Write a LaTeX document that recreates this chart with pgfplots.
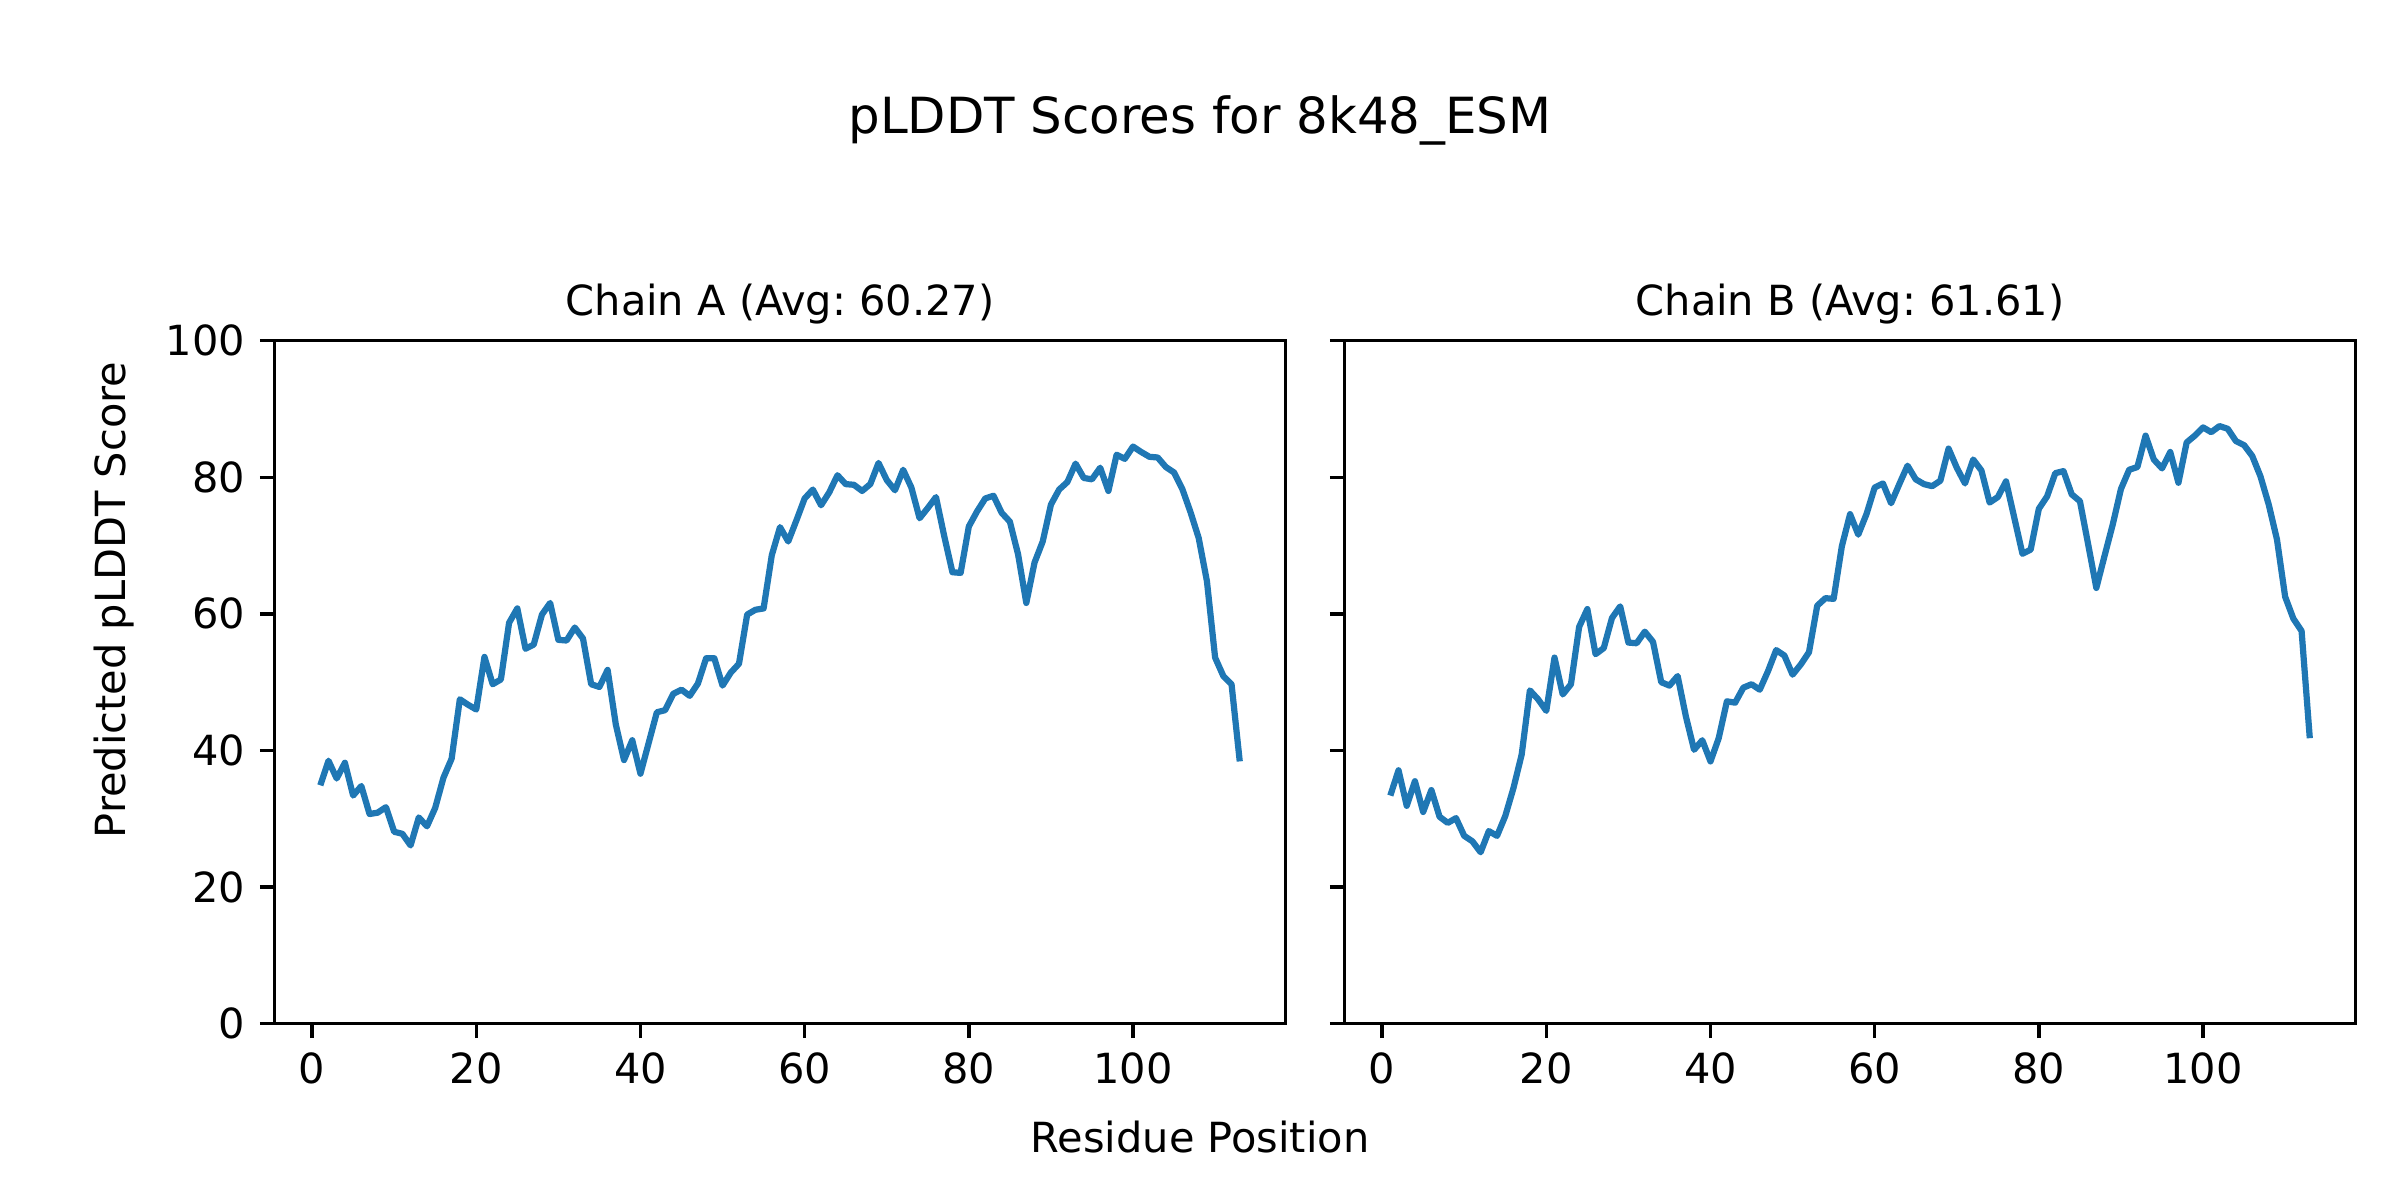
\documentclass[border=0pt]{standalone}
\usepackage{fontspec}
\setmainfont{DejaVu Sans}
\usepackage{pgfplots}
\pgfplotsset{compat=1.18}
\usepackage{pgfplotstable}
\definecolor{mplblue}{RGB}{31,119,180}
\frenchspacing

\pgfplotstableread{
x y
1 34.9
2 38.5
3 35.9
4 38.2
5 33.4
6 34.8
7 30.7
8 30.9
9 31.7
10 28.1
11 27.8
12 26.1
13 30.2
14 28.9
15 31.6
16 36.0
17 38.8
18 47.5
19 46.7
20 46.0
21 53.7
22 49.7
23 50.4
24 58.7
25 60.8
26 54.9
27 55.5
28 59.9
29 61.6
30 56.2
31 56.1
32 58.0
33 56.4
34 49.7
35 49.3
36 51.8
37 43.8
38 38.6
39 41.5
40 36.6
41 41.1
42 45.6
43 45.9
44 48.3
45 48.9
46 48.0
47 49.8
48 53.5
49 53.5
50 49.5
51 51.4
52 52.7
53 59.9
54 60.6
55 60.8
56 68.6
57 72.7
58 70.6
59 73.7
60 76.9
61 78.2
62 75.9
63 77.8
64 80.3
65 79.0
66 78.9
67 78.0
68 79.0
69 82.1
70 79.6
71 78.1
72 81.1
73 78.5
74 74.0
75 75.5
76 77.1
77 71.4
78 66.1
79 66.0
80 72.8
81 75.0
82 76.9
83 77.3
84 74.8
85 73.5
86 68.7
87 61.6
88 67.5
89 70.6
90 76.0
91 78.2
92 79.3
93 82.0
94 79.9
95 79.7
96 81.4
97 78.0
98 83.3
99 82.7
100 84.5
101 83.7
102 83.0
103 82.9
104 81.5
105 80.7
106 78.3
107 74.9
108 71.1
109 64.8
110 53.6
111 50.9
112 49.7
113 38.4
}\chainA

\pgfplotstableread{
x y
1 33.4
2 37.1
3 31.9
4 35.5
5 31.0
6 34.2
7 30.3
8 29.4
9 30.1
10 27.5
11 26.7
12 25.1
13 28.2
14 27.5
15 30.4
16 34.5
17 39.4
18 48.8
19 47.5
20 45.8
21 53.6
22 48.2
23 49.7
24 58.1
25 60.7
26 54.1
27 55.0
28 59.4
29 61.1
30 55.8
31 55.7
32 57.4
33 55.9
34 50.0
35 49.5
36 50.9
37 45.0
38 40.1
39 41.5
40 38.4
41 41.8
42 47.2
43 47.0
44 49.2
45 49.7
46 48.9
47 51.6
48 54.7
49 53.9
50 51.1
51 52.6
52 54.4
53 61.2
54 62.3
55 62.2
56 69.9
57 74.6
58 71.6
59 74.6
60 78.5
61 79.1
62 76.2
63 79.0
64 81.7
65 79.7
66 79.0
67 78.7
68 79.5
69 84.2
70 81.4
71 79.1
72 82.6
73 81.0
74 76.3
75 77.1
76 79.4
77 74.1
78 68.8
79 69.4
80 75.4
81 77.2
82 80.6
83 80.9
84 77.5
85 76.5
86 70.2
87 63.8
88 68.5
89 73.1
90 78.3
91 81.1
92 81.5
93 86.1
94 82.6
95 81.3
96 83.7
97 79.2
98 85.1
99 86.1
100 87.3
101 86.6
102 87.5
103 87.1
104 85.3
105 84.7
106 83.1
107 80.1
108 76.0
109 70.9
110 62.5
111 59.3
112 57.5
113 41.8
}\chainB

\pgfplotsset{
  mystyle/.style={
    scale only axis,
    width=243.65pt, height=164.54pt,
    anchor=south west,
    xmin=-4.6, xmax=118.6,
    ymin=0, ymax=100,
    xtick={0,20,40,60,80,100},
    ytick={0,20,40,60,80,100},
    tick align=outside,
    major tick length=3.5pt,
    every tick/.style={black, line width=0.8pt},
    axis line style={line width=0.8pt},
    xtick pos=bottom, ytick pos=left,
    tick label style={font=\fontsize{10}{12}\selectfont},
    /pgf/number format/assume math mode=true,
    clip=true,
  }
}

\begin{document}
\begin{tikzpicture}
\path[use as bounding box] (0,0) rectangle (578.16pt,289.08pt);

\begin{axis}[mystyle, at={(66.08pt,42.47pt)}]
\addplot[mplblue, line width=1.5pt, line join=round, mark=none] table[x=x,y=y] {\chainA};
\end{axis}

\begin{axis}[mystyle, at={(323.85pt,42.47pt)}, yticklabels={}]
\addplot[mplblue, line width=1.5pt, line join=round, mark=none] table[x=x,y=y] {\chainB};
\end{axis}

\node[anchor=base, inner sep=0pt, font=\fontsize{10}{12}\selectfont] at (187.91pt,213.0pt) {Chain A (Avg: 60.27)};
\node[anchor=base, inner sep=0pt, font=\fontsize{10}{12}\selectfont] at (445.68pt,213.0pt) {Chain B (Avg: 61.61)};
\node[anchor=base, inner sep=0pt, font=\fontsize{12}{14}\selectfont] at (289.08pt,256.8pt) {pLDDT Scores for 8k48\_ESM};
\node[anchor=base, inner sep=0pt, font=\fontsize{10}{12}\selectfont] at (289.08pt,11.56pt) {Residue Position};
\node[anchor=base, rotate=90, inner sep=0pt, font=\fontsize{10}{12}\selectfont] at (30.3pt,144.54pt) {Predicted pLDDT Score};
\end{tikzpicture}
\end{document}
